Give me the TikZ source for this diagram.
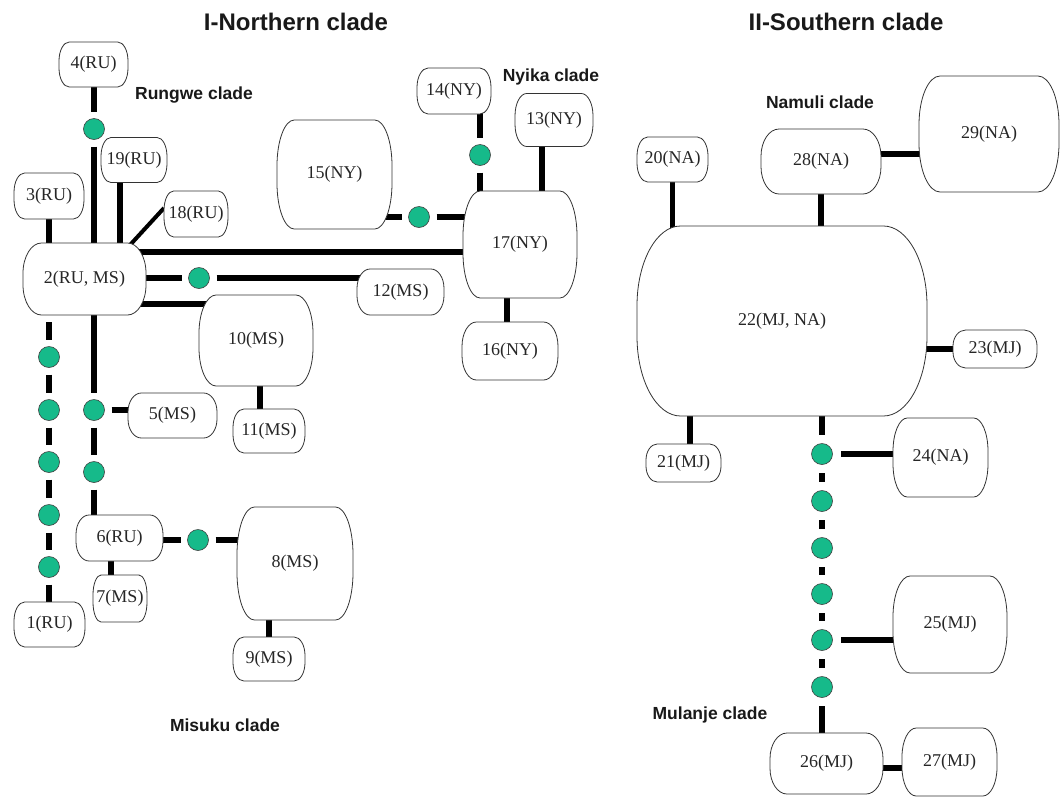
\documentclass[tikz,border=0pt]{standalone}
\usepackage{fontspec}
\setmainfont{Liberation Serif}
\newfontfamily\labfont{Liberation Sans}
\usetikzlibrary{calc}
\pgfdeclarelayer{bg}
\pgfdeclarelayer{lines}
\pgfdeclarelayer{boxes}
\pgfsetlayers{bg,lines,boxes,main}
\definecolor{dotgreen}{RGB}{22,186,138}
\tikzset{
  hapnode/.style={inner sep=0pt, outer sep=0pt, text=black!85, font=\fontsize{18}{20}\selectfont},
  hapline/.style={draw=black!80, line width=0.8pt, fill=white},
  conn/.style={line width=5.5pt, black},
  thinconn/.style={line width=4pt, black},
  dotn/.style={circle, fill=dotgreen, draw=black!75, line width=0.6pt, minimum size=21pt, inner sep=0pt, outer sep=7pt},
  mdot/.style={dotn, outer sep=8.5pt},
  cladelab/.style={font=\labfont\bfseries\fontsize{17.5}{20}\selectfont, text=black!90},
  titlelab/.style={font=\labfont\bfseries\fontsize{24}{28}\selectfont, text=black!90},
}
\newcommand\hap[6]{%
  \node[hapnode, minimum width=#4pt, minimum height=#5pt] (#1) at (#2,#3) {#6};
  \pgfmathsetmacro\hR{0.15*#4}%
  \pgfmathsetmacro\hQ{0.42*#5}%
  \begin{pgfonlayer}{boxes}
  \draw[hapline] ([xshift=\hR pt]#1.north west) -- ([xshift=-\hR pt]#1.north east)
    arc[start angle=90,end angle=0,x radius=\hR pt,y radius=\hQ pt]
    -- ([yshift=\hQ pt]#1.south east)
    arc[start angle=0,end angle=-90,x radius=\hR pt,y radius=\hQ pt]
    -- ([xshift=\hR pt]#1.south west)
    arc[start angle=270,end angle=180,x radius=\hR pt,y radius=\hQ pt]
    -- ([yshift=-\hQ pt]#1.north west)
    arc[start angle=180,end angle=90,x radius=\hR pt,y radius=\hQ pt]
    -- cycle;
  \end{pgfonlayer}}
\begin{document}
\begin{tikzpicture}[x=1pt,y=-1pt]
\begin{pgfonlayer}{bg}
\fill[white] (0,0) rectangle (1060,801);
\end{pgfonlayer}
\useasboundingbox (0,0) rectangle (1060,801);
% titles and clade labels
\node[titlelab] (tN) at (296,22) {I-Northern clade};
\node[titlelab] (tS) at (846,22) {II-Southern clade};
\node[cladelab] (lRu) at (194,95) {Rungwe clade};
\node[cladelab] (lNy) at (551,77) {Nyika clade};
\node[cladelab] (lNa) at (820,102) {Namuli clade};
\node[cladelab] (lMs) at (225,725) {Misuku clade};
\node[cladelab] (lMj) at (710,715) {Mulanje clade};
% haplotype boxes
\hap{n1}{49.5}{624.5}{71}{45}{1(RU)}
\hap{n2}{84.5}{279}{123}{72}{2(RU, MS)}
\hap{n3}{49}{196}{70}{46}{3(RU)}
\hap{n4}{93.5}{64.5}{69}{45}{4(RU)}
\hap{n5}{172.5}{415.5}{89}{45}{5(MS)}
\hap{n6}{119.5}{538}{87}{46}{6(RU)}
\hap{n7}{120}{598.5}{54}{47}{7(MS)}
\hap{n8}{295}{563.5}{116}{113}{8(MS)}
\hap{n9}{269}{659}{72}{44}{9(MS)}
\hap{n10}{256}{340.5}{114}{91}{10(MS)}
\hap{n11}{269}{431}{72}{44}{11(MS)}
\hap{n12}{400.5}{292}{87}{46}{12(MS)}
\hap{n13}{554}{120}{78}{53}{13(NY)}
\hap{n14}{454}{91}{74}{46}{14(NY)}
\hap{n15}{334.5}{174.5}{115}{109}{15(NY)}
\hap{n16}{510}{351}{96}{58}{16(NY)}
\hap{n17}{520}{244.5}{114}{107}{17(NY)}
\hap{n18}{196}{214}{64}{46}{18(RU)}
\hap{n19}{134}{160}{66}{45}{19(RU)}
\hap{n20}{672.5}{159.5}{71}{45}{20(NA)}
\hap{n21}{683.5}{463}{75}{38}{21(MJ)}
\hap{n22}{782}{321}{290}{190}{22(MJ, NA)}
\hap{n23}{995}{349}{84}{38}{23(MJ)}
\hap{n24}{940.5}{457.5}{95}{79}{24(NA)}
\hap{n25}{950}{624.5}{114}{97}{25(MJ)}
\hap{n26}{826.5}{763.5}{113}{61}{26(MJ)}
\hap{n27}{949.5}{762}{95}{68}{27(MJ)}
\hap{n28}{821}{161.5}{120}{65}{28(NA)}
\hap{n29}{989}{134}{140}{116}{29(NA)}
% median vectors (dots)
\node[dotn] (d1) at (94,129) {};
\node[dotn] (d2) at (199,278) {};
\node[dotn] (d3) at (94,410) {};
\node[dotn] (d4) at (94,472) {};
\node[dotn] (dL1) at (49,357) {};
\node[dotn] (dL2) at (49,410) {};
\node[dotn] (dL3) at (49,462) {};
\node[dotn] (dL4) at (49,515) {};
\node[dotn] (dL5) at (49,567) {};
\node[dotn] (dd) at (198,540) {};
\node[dotn] (dN1) at (480,155) {};
\node[dotn] (dN2) at (419,217) {};
\node[mdot] (mD1) at (822,454) {};
\node[mdot] (mD2) at (822,501) {};
\node[mdot] (mD3) at (822,548) {};
\node[mdot] (mD4) at (822,594) {};
\node[mdot] (mD5) at (822,640) {};
\node[mdot] (mD6) at (822,687) {};
% connectors
\begin{pgfonlayer}{lines}
\draw[conn] (d1 |- n4.center) -- (d1.north);
\draw[conn] (d1.south) -- (d1 |- n2.center);
\draw[conn] ([xshift=-14pt]n19.center) -- ([xshift=-14pt]n19.center |- n2.center);
\draw[conn] (n3.center) -- (n3.center |- n2.center);
\draw[thinconn] ([xshift=-16pt,yshift=-2pt]n2.north east) -- ([yshift=6pt]n18.west);
\draw[conn] ([yshift=27pt]n2.center) -- ([yshift=27pt]n2.center -| n17.center);
\draw[conn] (n2.center |- d2) -- (d2.west);
\draw[conn] (d2.east) -- (d2 -| n12.center);
\draw[conn] ([yshift=-25pt]n2.center) -- ([yshift=-25pt]n2.center -| n10.center);
\draw[conn] (d3 |- n2.center) -- (d3.north);
\draw[conn] (d3.east) -- (d3 -| n5.center);
\draw[conn] (d3.south) -- (d4.north);
\draw[conn] (d4.south) -- (d4 |- n6.center);
\draw[conn] ($(dL1 |- n2.south)+(0,7)$) -- (dL1.north);
\draw[conn] (dL1.south) -- (dL2.north);
\draw[conn] (dL2.south) -- (dL3.north);
\draw[conn] (dL3.south) -- (dL4.north);
\draw[conn] (dL4.south) -- (dL5.north);
\draw[conn] (dL5.south) -- (dL5 |- n1.center);
\draw[conn] ([xshift=-8.5pt]n6.center) -- ([xshift=-8.5pt]n6.center |- n7.center);
\draw[conn] (n6.center |- dd) -- (dd.west);
\draw[conn] (dd.east) -- (dd -| n8.center);
\draw[conn] (n9.center) -- (n9.center |- n8.center);
\draw[conn] ([xshift=-9pt]n11.center) -- ([xshift=-9pt]n11.center |- n10.center);
\draw[conn] (dN1 |- n14.center) -- (dN1.north);
\draw[conn] (dN1.south) -- (dN1 |- n17.center);
\draw[conn] ([xshift=-12pt]n13.center) -- ([xshift=-12pt]n13.center |- n17.center);
\draw[conn] (n15.center |- dN2) -- (dN2.west);
\draw[conn] (dN2.east) -- (dN2 -| n17.center);
\draw[conn] ([xshift=-3pt]n16.center) -- ([xshift=-3pt]n16.center |- n17.center);
\draw[conn] (n20.center) -- (n20.center |- n22.center);
\draw[conn] (n28.center) -- (n28.center |- n22.center);
\draw[conn] ([yshift=7.5pt]n28.center) -- ([yshift=7.5pt]n28.center -| n29.center);
\draw[conn] (n23.center) -- (n23.center -| n22.center);
\draw[conn] ([xshift=6.5pt]n21.center) -- ([xshift=6.5pt]n21.center |- n22.center);
\draw[conn] (mD1 |- n22.center) -- (mD1.north);
\draw[conn] (mD1.south) -- (mD2.north);
\draw[conn] (mD2.south) -- (mD3.north);
\draw[conn] (mD3.south) -- (mD4.north);
\draw[conn] (mD4.south) -- (mD5.north);
\draw[conn] (mD5.south) -- (mD6.north);
\draw[conn] (mD6.south) -- (mD6 |- n26.center);
\draw[conn] (mD1.east) -- (mD1 -| n24.center);
\draw[conn] (mD5.east) -- (mD5 -| n25.center);
\draw[conn] ([yshift=-4.5pt]n26.center) -- ([yshift=-4.5pt]n26.center -| n27.center);
\end{pgfonlayer}
\end{tikzpicture}
\end{document}
